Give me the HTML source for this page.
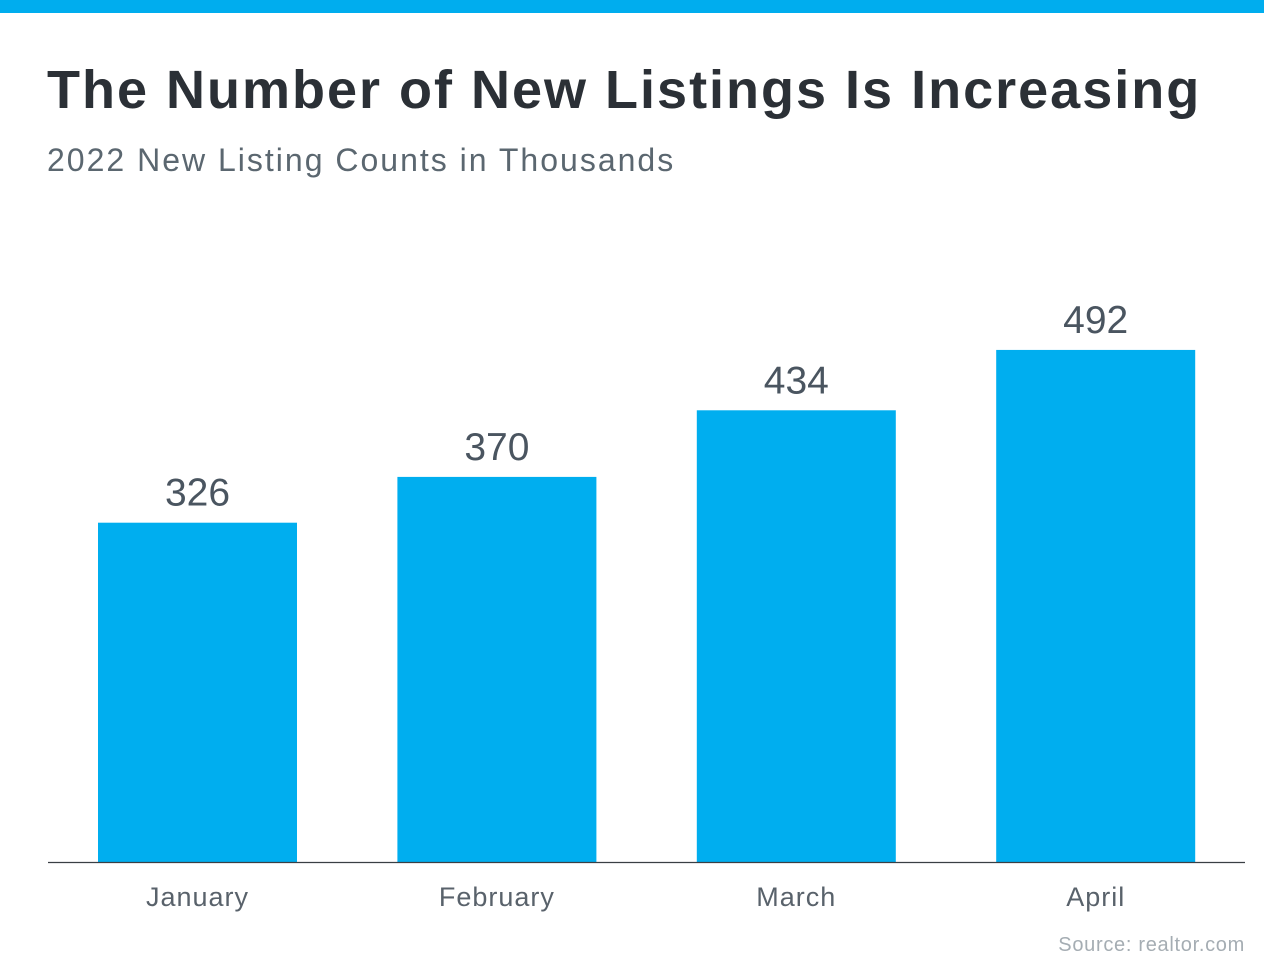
<!DOCTYPE html>
<html><head><meta charset="utf-8"><style>
body{margin:0;width:1264px;height:968px;background:#fff;overflow:hidden;font-family:"Liberation Sans",Arial,sans-serif;position:relative}
.bar-top{position:absolute;left:0;top:0;width:1264px;height:13px;background:#00adee}
h1{position:absolute;left:47px;top:59px;margin:0;font-size:54px;font-weight:bold;color:#2b3036;letter-spacing:2.0px;white-space:nowrap}
.sub{position:absolute;left:47px;top:142px;font-size:32px;color:#5b6770;letter-spacing:2px;white-space:nowrap}
.src{position:absolute;right:19px;top:934px;font-size:20px;color:#a5adb3;letter-spacing:0.7px}
</style></head><body>
<div class="bar-top"></div>
<h1>The Number of New Listings Is Increasing</h1>
<div class="sub">2022 New Listing Counts in Thousands</div>
<svg id="chart" width="1264" height="968" style="position:absolute;left:0;top:0"></svg>
<div class="src">Source: realtor.com</div>
<script>
const categories = ["January","February","March","April"];
const values = [326,370,434,492];
const valueLabels = ["326","370","434","492"];
const svg = document.getElementById('chart');
const NS = "http://www.w3.org/2000/svg";
const baseY = 862, pxPerUnit = 1.0408, left0 = 98, step = 299.4, bw = 199;
function y(v){return baseY - v*pxPerUnit;}
function x(i){return left0 + i*step;}
categories.forEach((c,i)=>{
  const r = document.createElementNS(NS,'rect');
  r.setAttribute('x',x(i));r.setAttribute('y',y(values[i]));
  r.setAttribute('width',bw);r.setAttribute('height',baseY-y(values[i]));
  r.setAttribute('fill','#00aeef');
  
  
  svg.appendChild(r);
  const t = document.createElementNS(NS,'text');
  t.setAttribute('x',x(i)+bw/2);t.setAttribute('y',y(values[i])-17);
  t.setAttribute('text-anchor','middle');t.setAttribute('font-size','39');
  t.setAttribute('fill','#4a5560');t.setAttribute('font-family','Liberation Sans, sans-serif');
  t.textContent = valueLabels[i];
  
  
  svg.appendChild(t);
  const m = document.createElementNS(NS,'text');
  m.setAttribute('x',x(i)+bw/2);m.setAttribute('y',906);
  m.setAttribute('text-anchor','middle');m.setAttribute('font-size','27');
  m.setAttribute('letter-spacing','1');
  m.setAttribute('fill','#59626b');m.setAttribute('font-family','Liberation Sans, sans-serif');
  m.textContent = c;
  
  
  svg.appendChild(m);
});
const ax = document.createElementNS(NS,'line');
ax.setAttribute('x1',48);ax.setAttribute('x2',1245);ax.setAttribute('y1',baseY+0.5);ax.setAttribute('y2',baseY+0.5);
ax.setAttribute('stroke','#3a3f44');ax.setAttribute('stroke-width','1.2');


svg.appendChild(ax);
</script>
</body></html>
